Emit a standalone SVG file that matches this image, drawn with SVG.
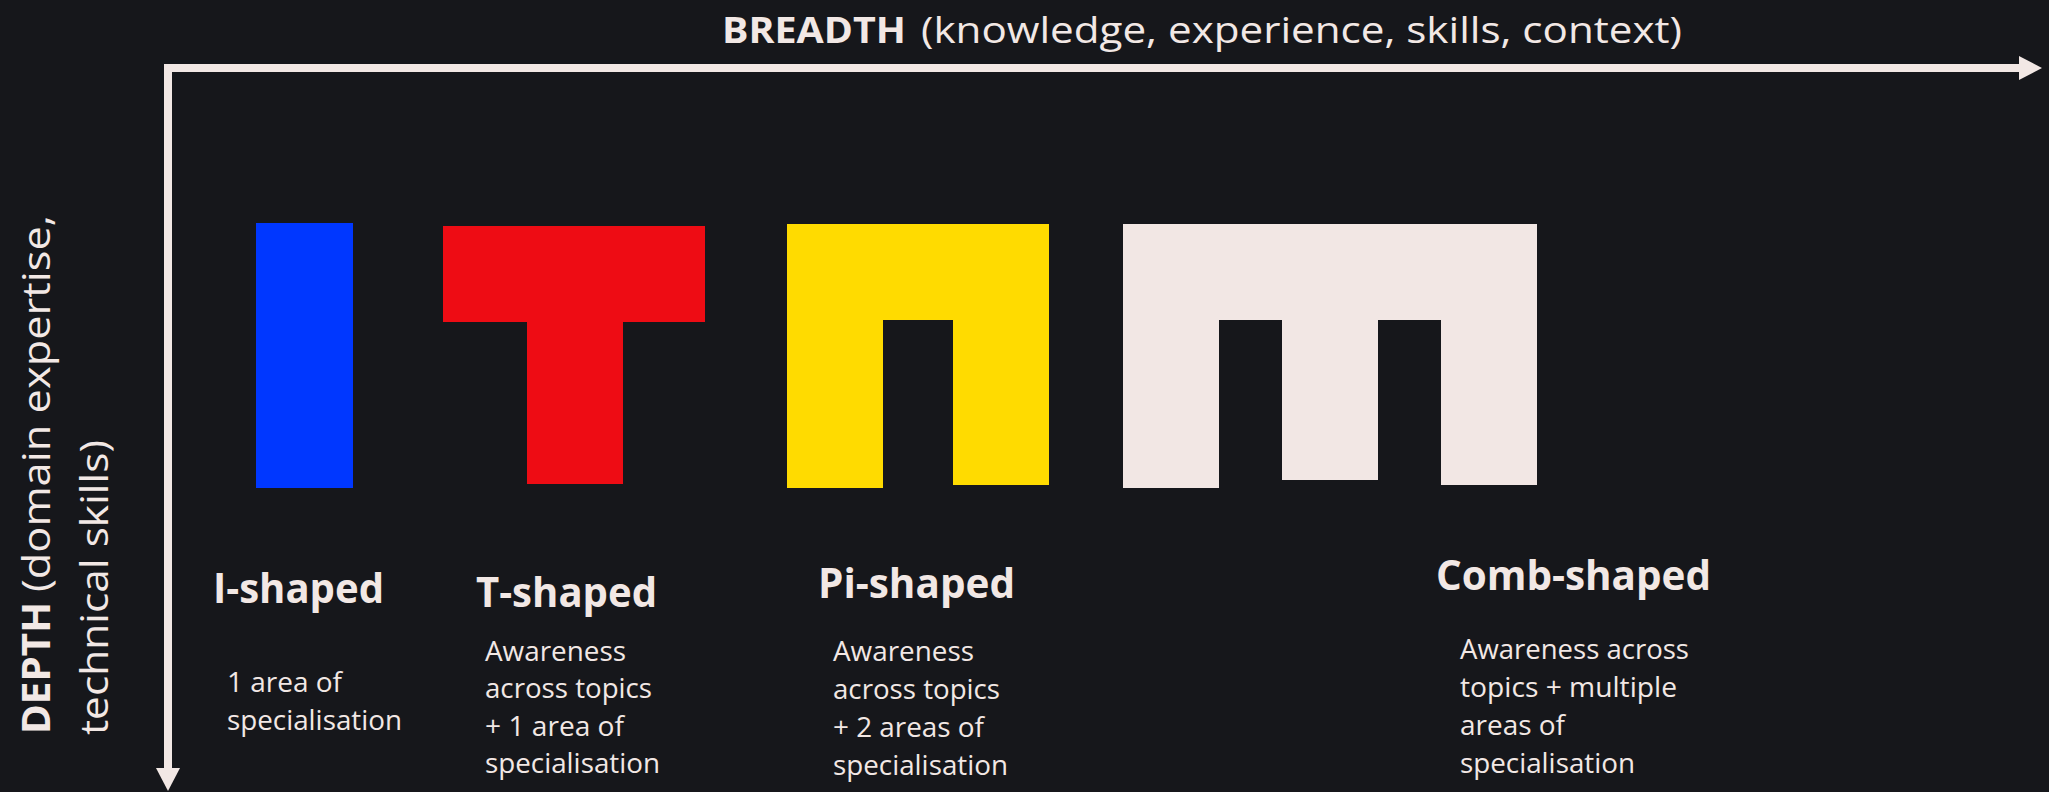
<svg xmlns="http://www.w3.org/2000/svg" width="2049" height="792" viewBox="0 0 2049 792">
<style>
.t{fill:#f2e8e5;font-family:"Open Sans","Noto Sans","Liberation Sans",sans-serif}
.b{font-weight:700}
.h{font-size:36.5px}
.v{font-size:39px}
.title{font-size:42px;font-weight:700}
.d{font-size:27.5px}
.axis{fill:none;stroke:#f2e8e5;stroke-width:8;stroke-linejoin:miter;stroke-linecap:butt}
.head{fill:#f2e8e5}
</style>
<rect x="0" y="0" width="2049" height="792" fill="#16171b"/>
<g id="connectors">
<path class="axis" d="M168 768 V68 H2019"/>
<polygon class="head" points="2019,56 2042,68 2019,80"/>
<polygon class="head" points="156,768 180,768 168,791"/>
</g>
<g id="breadth-label">
<text class="t b h" x="722" y="43" textLength="184" lengthAdjust="spacingAndGlyphs">BREADTH</text>
<text class="t h" x="921" y="43" textLength="761" lengthAdjust="spacingAndGlyphs">(knowledge, experience, skills, context)</text>
</g>
<g id="depth-label">
<text class="t b v" transform="translate(50,734) rotate(-90)" x="0" y="0" textLength="132" lengthAdjust="spacingAndGlyphs">DEPTH</text>
<text class="t v" transform="translate(50,592) rotate(-90)" x="0" y="0" textLength="377" lengthAdjust="spacingAndGlyphs">(domain expertise,</text>
<text class="t v" transform="translate(108,735) rotate(-90)" x="0" y="0" textLength="295" lengthAdjust="spacingAndGlyphs">technical skills)</text>
</g>
<g id="i-shaped">
<rect x="256" y="223" width="97" height="265" fill="#0037ff"/>
<text class="t title" x="213" y="603" textLength="171" lengthAdjust="spacingAndGlyphs">I-shaped</text>
<text class="t d" x="227" y="692" textLength="115" lengthAdjust="spacingAndGlyphs">1 area of</text>
<text class="t d" x="227" y="730" textLength="175" lengthAdjust="spacingAndGlyphs">specialisation</text>
</g>
<g id="t-shaped">
<path d="M443 226 H705 V322 H623 V484 H527 V322 H443 Z" fill="#ee0c14"/>
<text class="t title" x="476" y="607" textLength="181" lengthAdjust="spacingAndGlyphs">T-shaped</text>
<text class="t d" x="485" y="661" textLength="141" lengthAdjust="spacingAndGlyphs">Awareness</text>
<text class="t d" x="485" y="698" textLength="167" lengthAdjust="spacingAndGlyphs">across topics</text>
<text class="t d" x="485" y="736" textLength="139" lengthAdjust="spacingAndGlyphs">+ 1 area of</text>
<text class="t d" x="485" y="773" textLength="175" lengthAdjust="spacingAndGlyphs">specialisation</text>
</g>
<g id="pi-shaped">
<path d="M787 224 H1049 V485 H953 V320 H883 V488 H787 Z" fill="#ffdb00"/>
<text class="t title" x="818" y="598" textLength="197" lengthAdjust="spacingAndGlyphs">Pi-shaped</text>
<text class="t d" x="833" y="661" textLength="141" lengthAdjust="spacingAndGlyphs">Awareness</text>
<text class="t d" x="833" y="699" textLength="167" lengthAdjust="spacingAndGlyphs">across topics</text>
<text class="t d" x="833" y="737" textLength="151" lengthAdjust="spacingAndGlyphs">+ 2 areas of</text>
<text class="t d" x="833" y="775" textLength="175" lengthAdjust="spacingAndGlyphs">specialisation</text>
</g>
<g id="comb-shaped">
<path d="M1123 224 H1537 V485 H1441 V320 H1378 V480 H1282 V320 H1219 V488 H1123 Z" fill="#f2e7e4"/>
<text class="t title" x="1436" y="590" textLength="275" lengthAdjust="spacingAndGlyphs">Comb-shaped</text>
<text class="t d" x="1460" y="659" textLength="229" lengthAdjust="spacingAndGlyphs">Awareness across</text>
<text class="t d" x="1460" y="697" textLength="217" lengthAdjust="spacingAndGlyphs">topics + multiple</text>
<text class="t d" x="1460" y="735" textLength="105" lengthAdjust="spacingAndGlyphs">areas of</text>
<text class="t d" x="1460" y="773" textLength="175" lengthAdjust="spacingAndGlyphs">specialisation</text>
</g>
</svg>
